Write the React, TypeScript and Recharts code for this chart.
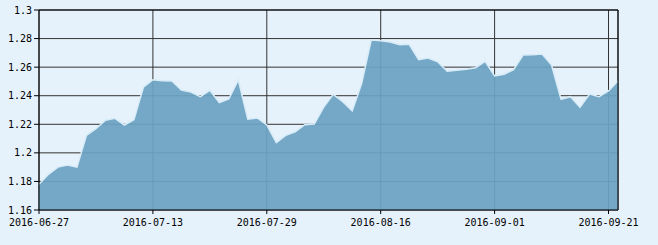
import { AreaChart, Area, XAxis, YAxis, CartesianGrid, ReferenceLine } from 'recharts';

// trading days shown on the chart
const dates = [
  '2016-06-27', '2016-06-28', '2016-06-29', '2016-06-30', '2016-07-01',
  '2016-07-04', '2016-07-05', '2016-07-06', '2016-07-07', '2016-07-08',
  '2016-07-11', '2016-07-12', '2016-07-13', '2016-07-14', '2016-07-15',
  '2016-07-18', '2016-07-19', '2016-07-20', '2016-07-21', '2016-07-22',
  '2016-07-25', '2016-07-26', '2016-07-27', '2016-07-28', '2016-07-29',
  '2016-08-01', '2016-08-02', '2016-08-03', '2016-08-04', '2016-08-05',
  '2016-08-08', '2016-08-09', '2016-08-10', '2016-08-11', '2016-08-12',
  '2016-08-15', '2016-08-16', '2016-08-17', '2016-08-18', '2016-08-19',
  '2016-08-22', '2016-08-23', '2016-08-24', '2016-08-25', '2016-08-26',
  '2016-08-29', '2016-08-30', '2016-08-31', '2016-09-01', '2016-09-02',
  '2016-09-05', '2016-09-06', '2016-09-07', '2016-09-08', '2016-09-09',
  '2016-09-12', '2016-09-13', '2016-09-14', '2016-09-19', '2016-09-20',
  '2016-09-21', '2016-09-22',
];

const values = [
  1.178, 1.185, 1.190, 1.1915, 1.190,
  1.2123, 1.2169, 1.2228, 1.2242, 1.2195,
  1.2232, 1.2459, 1.2512, 1.2505, 1.2503,
  1.244, 1.2426, 1.2393, 1.2438, 1.2351,
  1.2378, 1.251, 1.2235, 1.2244, 1.2195,
  1.2071, 1.2123, 1.2148, 1.2197, 1.2202,
  1.232, 1.241, 1.2358, 1.2293, 1.2487,
  1.279, 1.2785, 1.2776, 1.2757, 1.276,
  1.2653, 1.2664, 1.2638, 1.2571, 1.2578,
  1.2585, 1.2596, 1.2641, 1.2538, 1.255,
  1.2583, 1.2685, 1.2687, 1.2692, 1.2615,
  1.2375, 1.2393, 1.2319, 1.2412, 1.2393,
  1.2433, 1.2503,
];

const yTicks = [1.16, 1.18, 1.2, 1.22, 1.24, 1.26, 1.28, 1.3];

const data = dates.map((d, i) => ({ date: d, value: values[i] }));

if (typeof document !== 'undefined') {
  document.body.style.margin = '0';
  document.body.style.background = '#e6f2fb';
}

const tickStyle = { fill: '#000', fontSize: 10, fontFamily: '"DejaVu Sans Mono", monospace' };

export default function App() {
  return (
    <div style={{ width: 658, height: 245, background: '#e6f2fb' }}>
      <AreaChart
        width={658}
        height={245}
        data={data}
        margin={{ top: 10, right: 40, left: 0, bottom: 0 }}
      >
        <CartesianGrid stroke="#333" strokeWidth={1} />
        <XAxis
          dataKey="date"
          scale="point"
          interval={11}
          height={35}
          tickSize={4}
          tickMargin={5}
          stroke="#000"
          tick={tickStyle}
        />
        <YAxis
          type="number"
          domain={[1.16, 1.3]}
          ticks={yTicks}
          width={39}
          tickSize={5}
          tickMargin={2}
          stroke="#000"
          tick={tickStyle}
          tickFormatter={(v: number) => String(parseFloat(v.toFixed(2)))}
        />
        <ReferenceLine y={1.3} stroke="#000" />
        <Area
          type="linear"
          dataKey="value"
          stroke="#d8ecf8"
          strokeWidth={1.5}
          fill="#6ca2c2"
          fillOpacity={0.93}
          isAnimationActive={false}
          dot={false}
          activeDot={false}
        />
        <ReferenceLine x="2016-09-22" stroke="#000" />
      </AreaChart>
    </div>
  );
}
